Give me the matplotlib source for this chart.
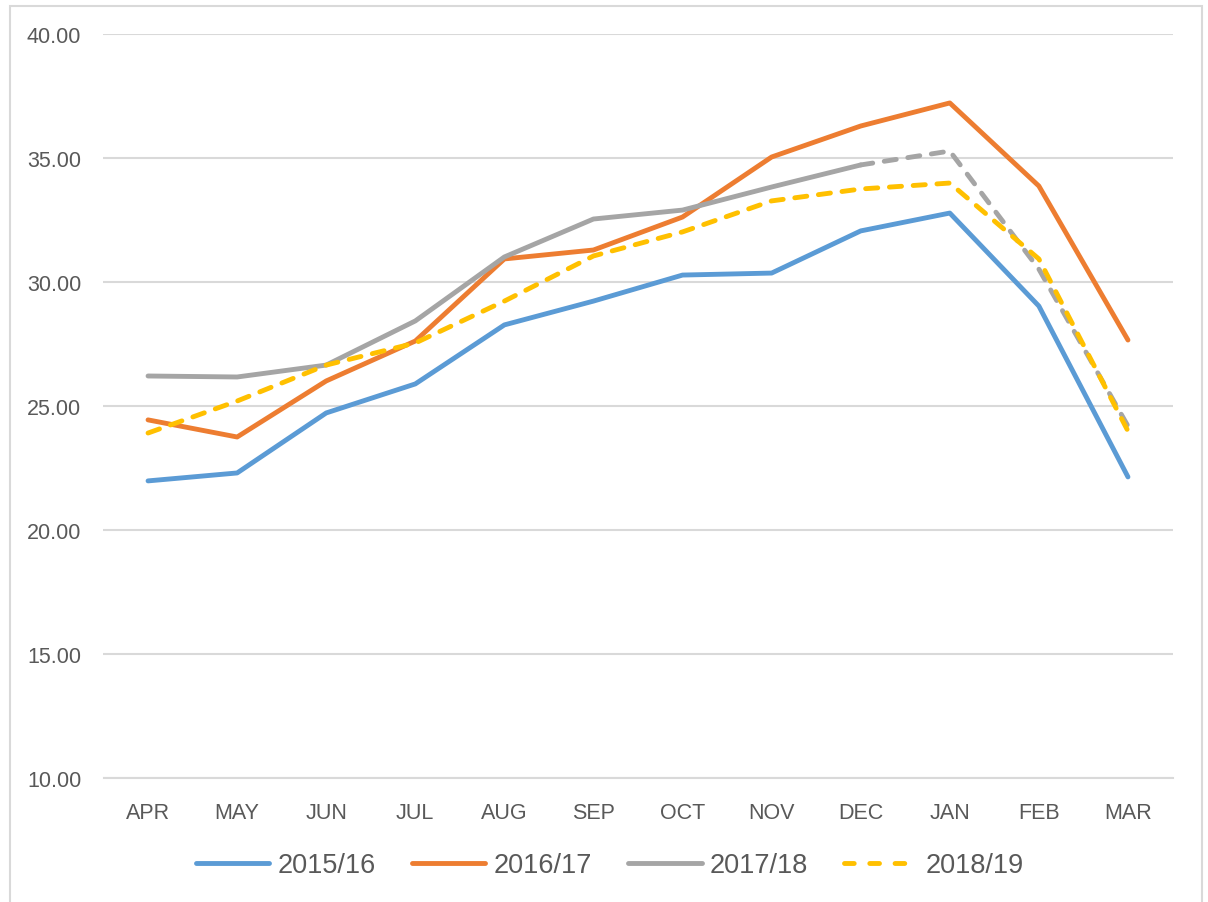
import matplotlib
matplotlib.use("Agg")
import matplotlib.pyplot as plt
from matplotlib.patches import Rectangle
from matplotlib.lines import Line2D

months = ["APR", "MAY", "JUN", "JUL", "AUG", "SEP", "OCT", "NOV", "DEC", "JAN", "FEB", "MAR"]
s2015 = [21.98, 22.30, 24.72, 25.89, 28.27, 29.23, 30.28, 30.36, 32.06, 32.78, 29.03, 22.14]
s2016 = [24.44, 23.75, 26.01, 27.62, 30.93, 31.29, 32.62, 35.04, 36.29, 37.22, 33.87, 27.66]
s2017 = [26.21, 26.17, 26.65, 28.43, 31.01, 32.54, 32.90, 33.83, 34.72, 35.28, 30.52, 24.19]
s2018 = [23.91, 25.20, 26.65, 27.54, 29.23, 31.05, 32.02, 33.27, 33.75, 33.99, 30.93, 23.99]
labels = ["2015/16", "2016/17", "2017/18", "2018/19"]
yticks = [10, 15, 20, 25, 30, 35, 40]

c_blue, c_orange, c_gray, c_yellow = "#5B9BD5", "#ED7D31", "#A5A5A5", "#FFC000"
text_c = "#595959"
grid_c = "#D9D9D9"
font = ["Liberation Sans", "DejaVu Sans"]

fig = plt.figure(figsize=(12.08, 9.03), dpi=100)
fig.patches.append(Rectangle((10 / 1208, -0.01), 1192 / 1208, (903 - 6.5) / 903 + 0.01,
                             transform=fig.transFigure, fill=False, edgecolor=grid_c,
                             linewidth=1.5, zorder=0))
ax = fig.add_axes([103.5 / 1208, 1 - 779 / 903, (1172.5 - 103.5) / 1208, (779 - 35) / 903])

x = list(range(len(months)))
lw = 3.5
dash = (2.5, 2.4)
ax.plot(x, s2015, color=c_blue, lw=lw, solid_capstyle="round", solid_joinstyle="round", zorder=3)
ax.plot(x, s2016, color=c_orange, lw=lw, solid_capstyle="round", solid_joinstyle="round", zorder=3)
ax.plot(x[:9], s2017[:9], color=c_gray, lw=lw, solid_capstyle="round", solid_joinstyle="round", zorder=3)
ax.plot(x[8:], s2017[8:], color=c_gray, lw=lw, dashes=dash, dash_capstyle="round",
        dash_joinstyle="round", zorder=3)
ax.plot(x, s2018, color=c_yellow, lw=lw, dashes=dash, dash_capstyle="round",
        dash_joinstyle="round", zorder=4)

ax.set_xlim(-0.5, len(months) - 0.5)
ax.set_ylim(10, 40)
ax.set_yticks(yticks)
ax.set_yticklabels([f"{v:.2f}" for v in yticks])
ax.set_xticks(x)
ax.set_xticklabels(months)
for lab in ax.get_xticklabels() + ax.get_yticklabels():
    lab.set_family(font)
    lab.set_fontsize(15.5)
    lab.set_color(text_c)
ax.tick_params(axis="both", length=0)
ax.tick_params(axis="y", pad=16)
ax.tick_params(axis="x", pad=17)
ax.grid(axis="y", color=grid_c, linewidth=1.5, zorder=0)
ax.set_axisbelow(True)
for s in ["top", "right", "left"]:
    ax.spines[s].set_visible(False)
ax.spines["bottom"].set_color(grid_c)
ax.spines["bottom"].set_linewidth(1.5)

handles = [
    Line2D([], [], color=c_blue, lw=lw, solid_capstyle="round"),
    Line2D([], [], color=c_orange, lw=lw, solid_capstyle="round"),
    Line2D([], [], color=c_gray, lw=lw, solid_capstyle="round"),
    Line2D([], [], color=c_yellow, lw=lw, dashes=(2.0, 3.2), dash_capstyle="round"),
]
leg = fig.legend(handles, labels, loc="center", bbox_to_anchor=(610 / 1208, 1 - 866 / 903),
                 ncol=4, frameon=False, prop={"family": font, "size": 19.5},
                 handlelength=2.7, handletextpad=0.3, columnspacing=1.35)
for t in leg.get_texts():
    t.set_color(text_c)

fig.savefig("out.png", dpi=100)
